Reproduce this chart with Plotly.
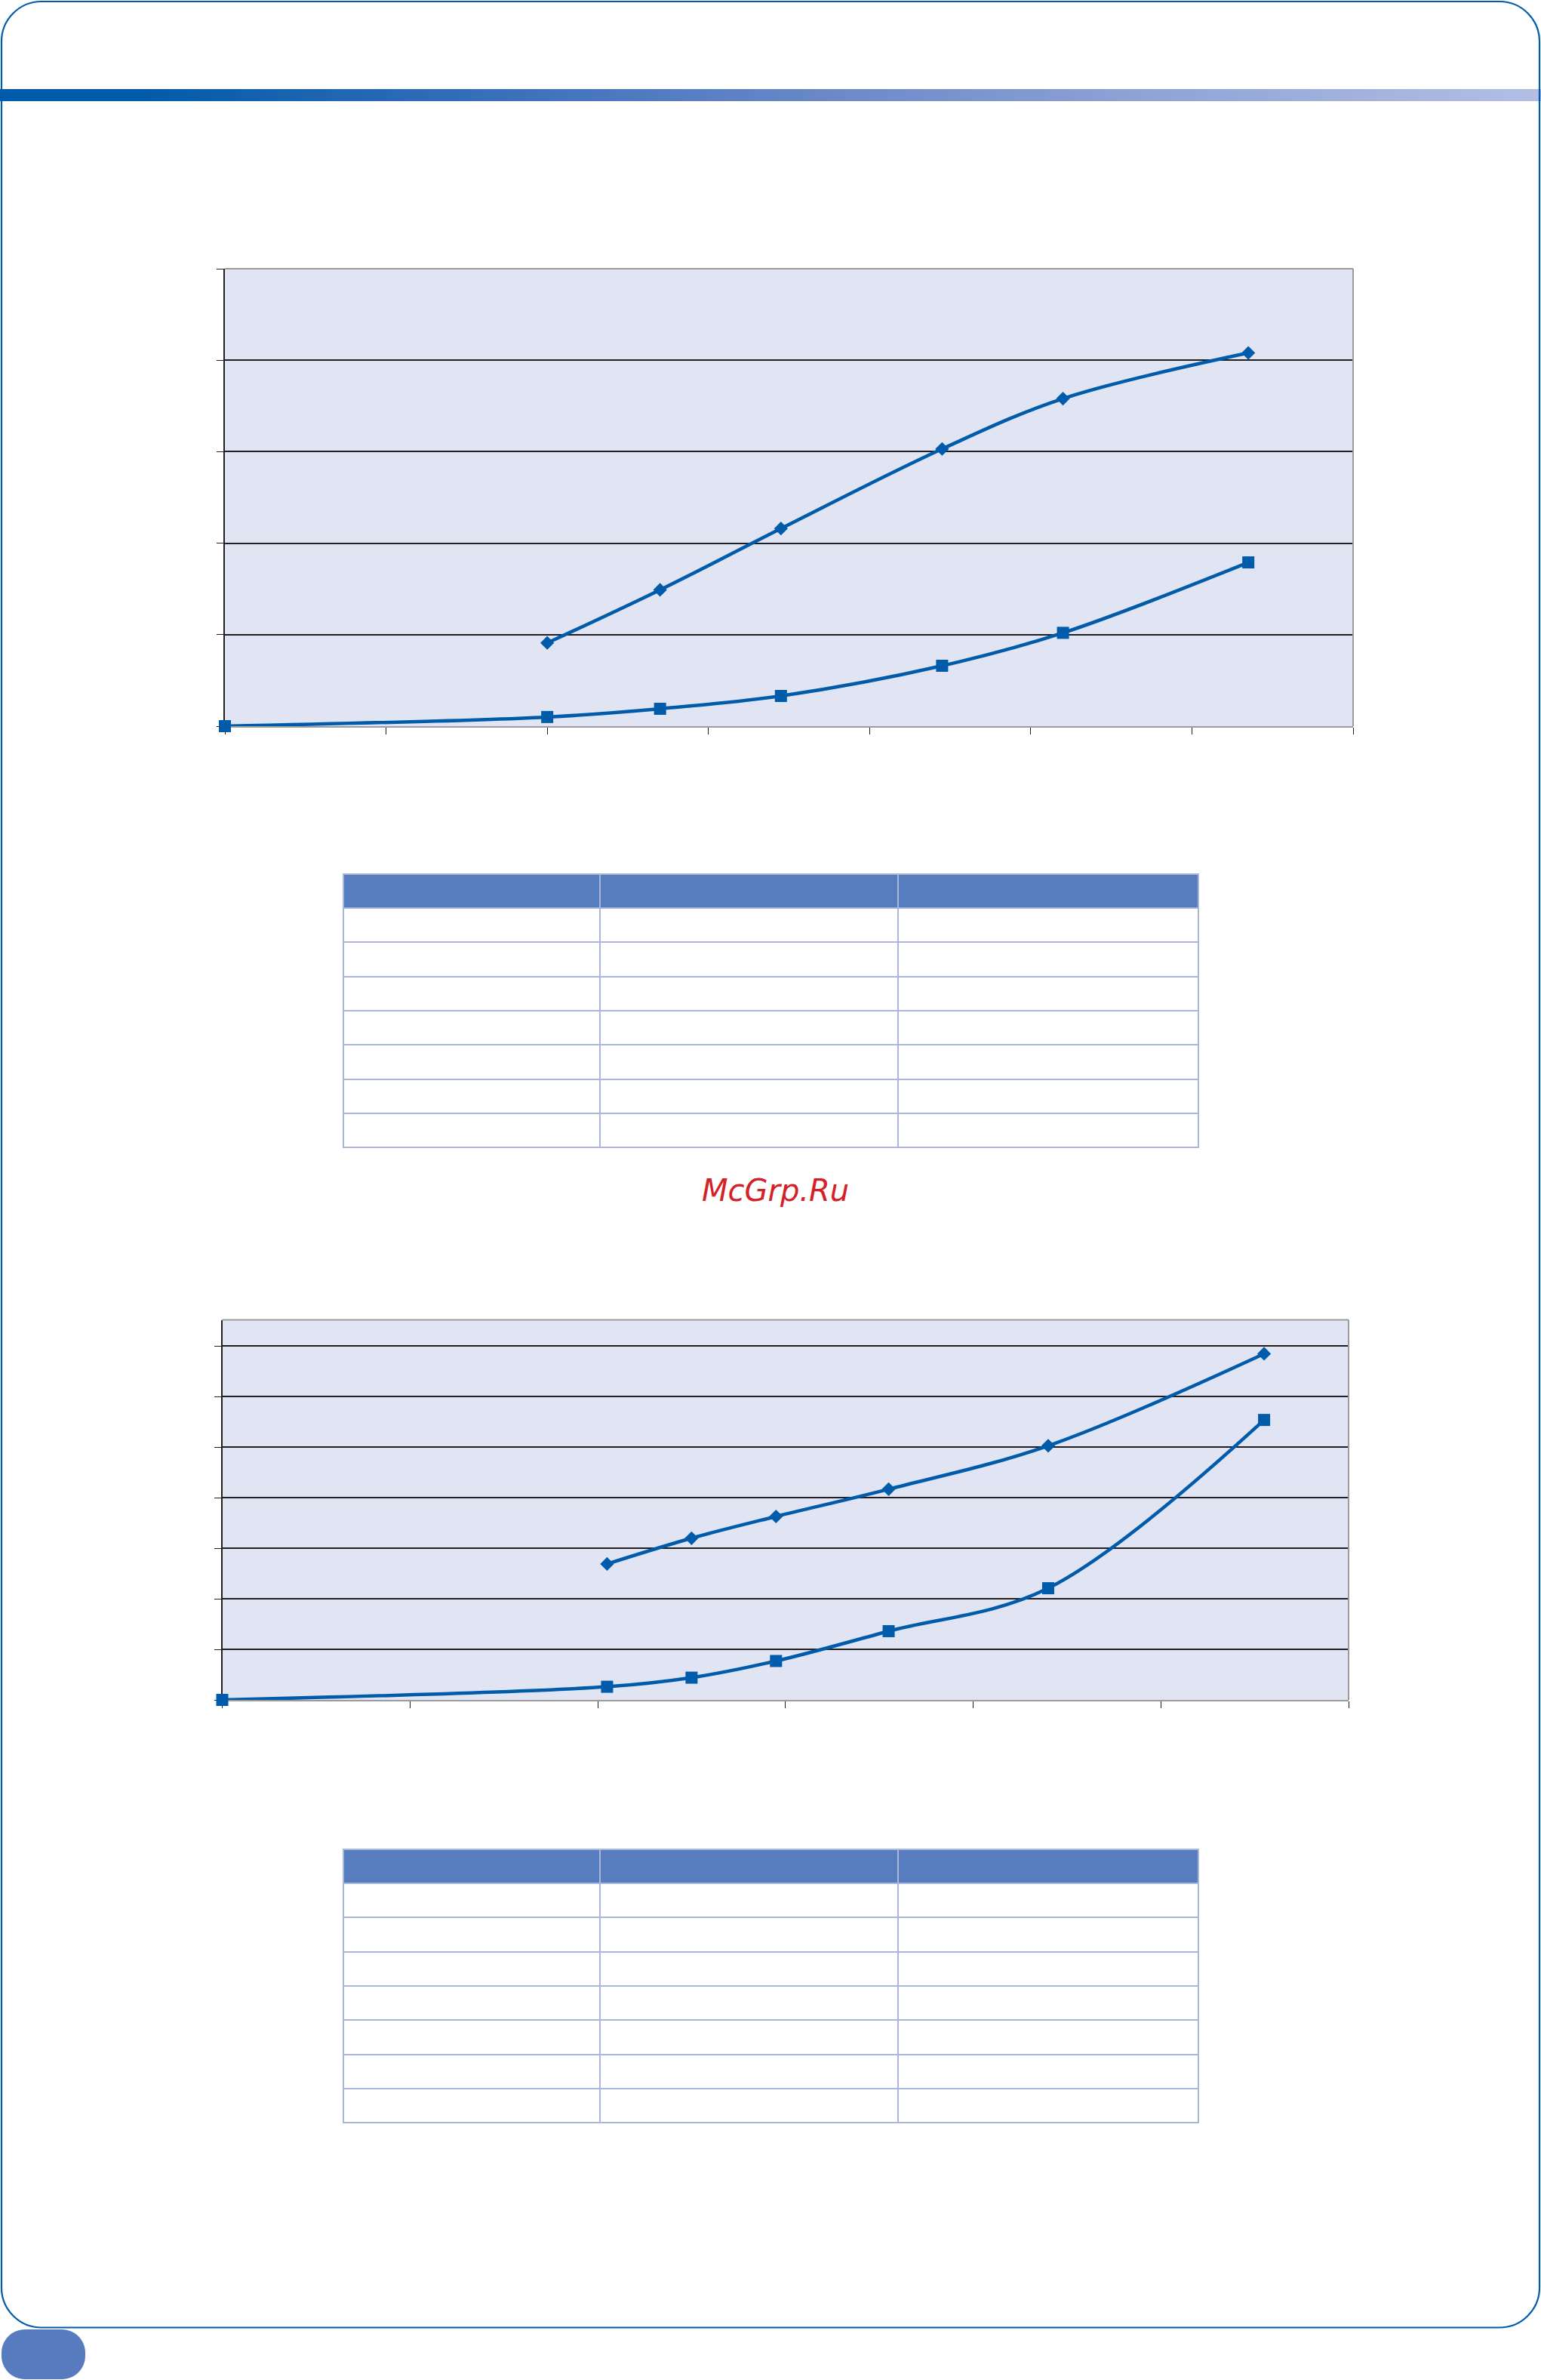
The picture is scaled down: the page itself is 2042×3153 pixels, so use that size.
import plotly.graph_objects as go

W, H = 2042, 3153
BLUE = "#005BAA"
DARK = "#231F20"
GRAY = "#9B9B9B"
PLOT_BG = "#E1E5F3"
TABLE_HEAD = "#587DBF"
TABLE_LINE = "#AAB7DD"

# --- chart 1 (no labels in the picture, so plain axis units) ---
x1_diamond = [2.0, 2.7, 3.45, 4.45, 5.2, 6.35]
y1_diamond = [0.91, 1.49, 2.16, 3.03, 3.58, 4.08]
x1_square = [0, 2.0, 2.7, 3.45, 4.45, 5.2, 6.35]
y1_square = [0, 0.10, 0.19, 0.33, 0.66, 1.02, 1.79]

# --- chart 2 ---
x2_diamond = [2.05, 2.5, 2.95, 3.55, 4.4, 5.55]
y2_diamond = [2.69, 3.20, 3.63, 4.17, 5.03, 6.85]
x2_square = [0, 2.05, 2.5, 2.95, 3.55, 4.4, 5.55]
y2_square = [0, 0.26, 0.44, 0.77, 1.36, 2.21, 5.54]

# --- tables: the cells are blank in the picture ---
table_header = ["", "", ""]
table_cells = [[""] * 7, [""] * 7, [""] * 7]

watermark = "McGrp.Ru"


def px(x):
    return x / W


def py(y):
    return 1 - y / H


def rounded_path(x0, y0, x1, y1, r):
    # rounded rectangle in page pixels -> paper coords path
    k = 0.5523 * r
    pts = [
        ("M", [(x0 + r, y0)]),
        ("L", [(x1 - r, y0)]),
        ("C", [(x1 - r + k, y0), (x1, y0 + r - k), (x1, y0 + r)]),
        ("L", [(x1, y1 - r)]),
        ("C", [(x1, y1 - r + k), (x1 - r + k, y1), (x1 - r, y1)]),
        ("L", [(x0 + r, y1)]),
        ("C", [(x0 + r - k, y1), (x0, y1 - r + k), (x0, y1 - r)]),
        ("L", [(x0, y0 + r)]),
        ("C", [(x0, y0 + r - k), (x0 + r - k, y0), (x0 + r, y0)]),
    ]
    out = []
    for cmd, p in pts:
        out.append(cmd + " " + " ".join(f"{px(a):.6f},{py(b):.6f}" for a, b in p))
    return " ".join(out) + " Z"


def lerp_color(stops, x):
    for (xa, ca), (xb, cb) in zip(stops, stops[1:]):
        if xa <= x <= xb:
            t = (x - xa) / (xb - xa)
            c = [round(ca[i] + (cb[i] - ca[i]) * t) for i in range(3)]
            return f"rgb({c[0]},{c[1]},{c[2]})"
    c = stops[-1][1] if x > stops[-1][0] else stops[0][1]
    return f"rgb({c[0]},{c[1]},{c[2]})"


fig = go.Figure()

series = [
    (x1_diamond, y1_diamond, "diamond", 14, "x", "y"),
    (x1_square, y1_square, "square", 16, "x", "y"),
    (x2_diamond, y2_diamond, "diamond", 14, "x2", "y2"),
    (x2_square, y2_square, "square", 16, "x2", "y2"),
]
for xs, ys, sym, size, xa, ya in series:
    fig.add_trace(
        go.Scatter(
            x=xs,
            y=ys,
            mode="lines+markers",
            line=dict(color=BLUE, width=4.5, shape="spline", smoothing=1),
            marker=dict(symbol=sym, size=size, color=BLUE),
            cliponaxis=False,
            xaxis=xa,
            yaxis=ya,
            hoverinfo="skip",
        )
    )

for top in (1158, 2450):
    fig.add_trace(
        go.Table(
            domain=dict(x=[px(455), px(1588)], y=[py(top + 372), py(top)]),
            columnwidth=[340, 395, 398],
            header=dict(
                values=table_header,
                fill_color=TABLE_HEAD,
                line=dict(color=TABLE_LINE, width=2),
                height=45,
            ),
            cells=dict(
                values=table_cells,
                fill_color="white",
                line=dict(color=TABLE_LINE, width=2),
                height=45.3,
            ),
        )
    )


def x_axis(left, right, top_range):
    return dict(
        domain=[px(left), px(right)],
        range=[0, top_range],
        dtick=1,
        tick0=0,
        showticklabels=False,
        ticks="outside",
        ticklen=9,
        tickwidth=1.4,
        tickcolor=DARK,
        showgrid=False,
        zeroline=False,
        showline=True,
        linecolor=GRAY,
        linewidth=2,
        layer="below traces",
        fixedrange=True,
    )


def y_axis(bottom, top, top_range):
    return dict(
        domain=[py(bottom), py(top)],
        range=[0, top_range],
        dtick=1,
        tick0=0,
        showticklabels=False,
        ticks="outside",
        ticklen=9,
        tickwidth=1.4,
        tickcolor=DARK,
        showgrid=True,
        gridcolor=DARK,
        gridwidth=1.6,
        zeroline=False,
        showline=True,
        linecolor=DARK,
        linewidth=2,
        layer="below traces",
        fixedrange=True,
    )


shapes = []
for xr, yr in (("x", "y"), ("x2", "y2")):
    xd, yd = xr + " domain", yr + " domain"
    shapes.append(dict(type="rect", xref=xd, yref=yd, x0=0, x1=1, y0=0, y1=1,
                       fillcolor=PLOT_BG, line=dict(width=0), layer="below"))
    shapes.append(dict(type="line", xref=xd, yref=yd, x0=0, x1=1, y0=1, y1=1,
                       line=dict(color=GRAY, width=2), layer="above"))
    shapes.append(dict(type="line", xref=xd, yref=yd, x0=1, x1=1, y0=0, y1=1,
                       line=dict(color=GRAY, width=2), layer="above"))

# gradient band under the page top
grad_stops = [
    (0, (0, 91, 170)),
    (190, (0, 91, 170)),
    (600, (50, 108, 184)),
    (1021, (100, 132, 198)),
    (1500, (142, 162, 212)),
    (2042, (178, 191, 227)),
]
step = 8
for gx in range(0, W, step):
    shapes.append(dict(type="rect", xref="paper", yref="paper",
                       x0=px(gx), x1=px(min(gx + step + 1, W)), y0=py(134), y1=py(118),
                       fillcolor=lerp_color(grad_stops, gx + step / 2),
                       line=dict(width=0), layer="below"))

# page frame and the page-number tab
shapes.append(dict(type="path", xref="paper", yref="paper",
                   path=rounded_path(2, 2, 2040, 3083.5, 53),
                   line=dict(color=BLUE, width=2.2)))
shapes.append(dict(type="path", xref="paper", yref="paper",
                   path=rounded_path(2, 3086, 113, 3152, 31),
                   fillcolor="#587BBF", line=dict(width=0)))

fig.update_layout(
    width=W,
    height=H,
    autosize=False,
    margin=dict(l=0, r=0, t=0, b=0),
    paper_bgcolor="white",
    plot_bgcolor="rgba(0,0,0,0)",
    showlegend=False,
    xaxis=dict(x_axis(298, 1793, 7), anchor="y"),
    yaxis=dict(y_axis(962, 356, 5), anchor="x"),
    xaxis2=dict(x_axis(294.5, 1787, 6), anchor="y2"),
    yaxis2=dict(y_axis(2252, 1748.6, 7.52), anchor="x2"),
    shapes=shapes,
    annotations=[
        dict(text=watermark, xref="paper", yref="paper", x=px(1027), y=py(1577),
             xanchor="center", yanchor="middle", showarrow=False,
             font=dict(family="DejaVu Sans", size=40, color="#D42027", style="italic"))
    ],
)

fig.write_html(
    "out.html",
    config={"displayModeBar": False},
    post_script="document.body.style.margin='0';",
)
